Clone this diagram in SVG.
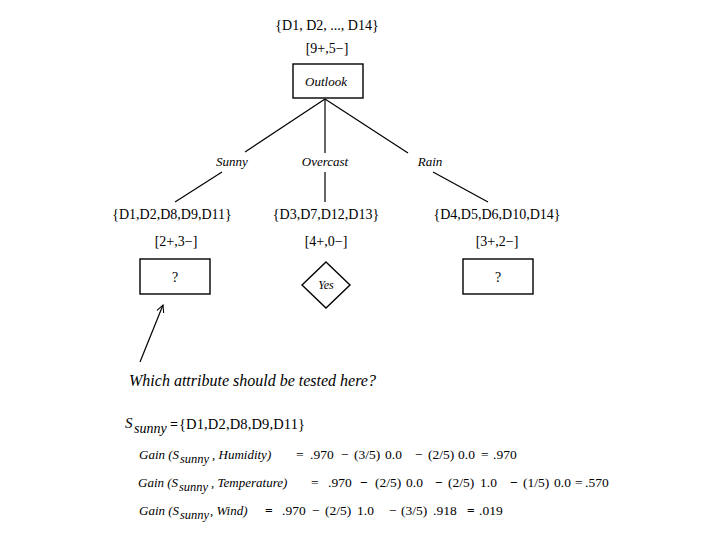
<svg xmlns="http://www.w3.org/2000/svg" width="720" height="540" viewBox="0 0 720 540">
<defs>
<style>
.t{font-family:"Liberation Serif","Times New Roman",serif;fill:#000}
.c{text-anchor:middle}
.i{font-style:italic}
.box{fill:#fff;stroke:#000;stroke-width:1.4}
.ln{stroke:#000;stroke-width:1.2;fill:none}
</style>
<marker id="ah" viewBox="0 0 10 10" refX="9" refY="5" markerWidth="9" markerHeight="9" orient="auto" markerUnits="userSpaceOnUse">
<path d="M1,1 L9,5 L1,9" fill="none" stroke="#000" stroke-width="1.2"/>
</marker>
</defs>
<rect width="720" height="540" fill="#fff"/>

<g id="root-label">
<text class="t c" x="327" y="30" font-size="14">{D1, D2, ..., D14}</text>
<text class="t c" x="327" y="53" font-size="14">[9+,5−]</text>
</g>

<g id="connectors">
<line class="ln" x1="325" y1="99" x2="245" y2="152"/>
<line class="ln" x1="222" y1="172" x2="175" y2="202"/>
<line class="ln" x1="325" y1="99" x2="325" y2="153" stroke="#666"/>
<line class="ln" x1="325" y1="172" x2="325" y2="202" stroke="#666"/>
<line class="ln" x1="325" y1="99" x2="408" y2="153"/>
<line class="ln" x1="433" y1="172" x2="488" y2="202"/>
<line class="ln" x1="140" y1="362" x2="163" y2="305" stroke-width="1" marker-end="url(#ah)"/>
</g>

<g id="edge-labels">
<text class="t c i" x="232" y="166" font-size="13">Sunny</text>
<text class="t c i" x="325" y="166" font-size="13">Overcast</text>
<text class="t c i" x="430" y="166" font-size="13">Rain</text>
</g>

<g id="node-outlook">
<rect class="box" x="293" y="64" width="70" height="34"/>
<text class="t c i" x="326" y="86" font-size="13">Outlook</text>
</g>

<g id="node-sunny">
<text class="t c" x="172" y="219" font-size="14">{D1,D2,D8,D9,D11}</text>
<text class="t c" x="176" y="246" font-size="14">[2+,3−]</text>
<rect class="box" x="140" y="259" width="70" height="35"/>
<text class="t c" x="175" y="282" font-size="14">?</text>
</g>

<g id="node-overcast">
<text class="t c" x="326" y="219" font-size="14">{D3,D7,D12,D13}</text>
<text class="t c" x="326" y="246" font-size="14">[4+,0−]</text>
<polygon class="box" points="326,262 350,285 326,308 302,285"/>
<text class="t c i" x="326" y="289" font-size="12">Yes</text>
</g>

<g id="node-rain">
<text class="t c" x="497" y="219" font-size="14">{D4,D5,D6,D10,D14}</text>
<text class="t c" x="497" y="246" font-size="14">[3+,2−]</text>
<rect class="box" x="463" y="259" width="70" height="35"/>
<text class="t c" x="498" y="282" font-size="14">?</text>
</g>

<g id="question">
<text class="t i" x="129" y="386" font-size="16">Which attribute should be tested here?</text>
</g>

<g id="formulas" class="t">
<text x="125" y="428" font-size="15" class="i">S</text>
<text x="134" y="433" font-size="14" class="i">sunny</text>
<text x="170" y="429" font-size="14" font-weight="bold">=</text>
<text x="179" y="429" font-size="14.5" textLength="126">{D1,D2,D8,D9,D11}</text>

<g font-size="13.5">
<text y="459"><tspan x="139" class="i" font-size="13">Gain (S</tspan><tspan x="180" dy="4" font-size="12.5" class="i">sunny</tspan><tspan x="212" dy="-4" class="i" font-size="13">, Humidity)</tspan><tspan x="296">=</tspan><tspan x="310">.970</tspan><tspan x="341">−</tspan><tspan x="354">(3/5)</tspan><tspan x="385">0.0</tspan><tspan x="415">−</tspan><tspan x="428">(2/5)</tspan><tspan x="458">0.0</tspan><tspan x="481">=</tspan><tspan x="493">.970</tspan></text>

<text y="487"><tspan x="138" class="i" font-size="13">Gain (S</tspan><tspan x="179" dy="4" font-size="12.5" class="i">sunny</tspan><tspan x="211" dy="-4" class="i" font-size="13">, Temperature)</tspan><tspan x="311">=</tspan><tspan x="328">.970</tspan><tspan x="360" font-weight="bold">−</tspan><tspan x="375">(2/5)</tspan><tspan x="406">0.0</tspan><tspan x="435" font-weight="bold">−</tspan><tspan x="448">(2/5)</tspan><tspan x="480">1.0</tspan><tspan x="510" font-weight="bold">−</tspan><tspan x="523">(1/5)</tspan><tspan x="554">0.0</tspan><tspan x="575">=</tspan><tspan x="585">.570</tspan></text>

<text y="515"><tspan x="139" class="i" font-size="13">Gain (S</tspan><tspan x="180" dy="4" font-size="12.5" class="i">sunny</tspan><tspan x="210" dy="-4" class="i" font-size="13">, Wind)</tspan><tspan x="265" font-weight="bold">=</tspan><tspan x="282">.970</tspan><tspan x="312">−</tspan><tspan x="325">(2/5)</tspan><tspan x="357">1.0</tspan><tspan x="389">−</tspan><tspan x="401">(3/5)</tspan><tspan x="433">.918</tspan><tspan x="467" font-weight="bold">=</tspan><tspan x="479">.019</tspan></text>
</g>
</g>
</svg>
